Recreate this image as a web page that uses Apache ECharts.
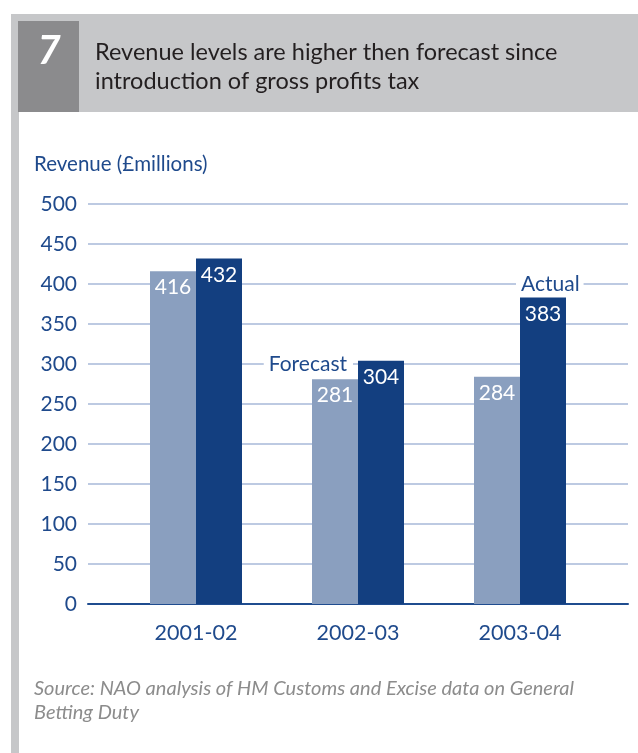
<!DOCTYPE html>
<html>
<head>
<meta charset="utf-8">
<script src="https://cdn.jsdelivr.net/npm/echarts@6/dist/echarts.min.js"></script>
<style>
html,body{margin:0;padding:0;background:#fff;}
#c{width:638px;height:753px;}
</style>
</head>
<body>
<div id="c"></div>
<script>
const categories = ['2001-02', '2002-03', '2003-04'];
const forecast = [416, 281, 284];
const actual = [432, 304, 383];
const yTicks = [0, 50, 100, 150, 200, 250, 300, 350, 400, 450, 500];

const FONT = 'Lato';
const BLUE_TEXT = '#1f4a8c';
const C_FORE = '#8a9fbf';
const C_ACT = '#133f80';
const GRIDC = '#a7b9d8';

const chart = echarts.init(document.getElementById('c'), null, {renderer: 'canvas'});

const option = {
  backgroundColor: '#ffffff',
  animation: false,
  grid: [
    {left: 88, right: 10, top: 204, bottom: 149, containLabel: false},
    {left: 115, right: 37, top: 204, bottom: 149, containLabel: false}
  ],
  xAxis: [
    {gridIndex: 0, type: 'value', min: 0, max: 1,
     axisLine: {show: true, onZero: false, lineStyle: {color: '#1f4c8f', width: 2}},
     axisTick: {show: false}, axisLabel: {show: false}, splitLine: {show: false}},
    {gridIndex: 1, type: 'category', data: categories,
     axisLine: {show: false}, axisTick: {show: false},
     axisLabel: {color: BLUE_TEXT, fontFamily: FONT, fontSize: 21.5, margin: 18}}
  ],
  yAxis: [
    {gridIndex: 0, type: 'value', min: 0, max: 500, interval: 50,
     axisLine: {show: false}, axisTick: {show: false},
     axisLabel: {color: BLUE_TEXT, fontFamily: FONT, fontSize: 21, margin: 11,
       formatter: v => yTicks.includes(v) ? String(v) : ''},
     splitLine: {show: true, lineStyle: {color: GRIDC, width: 1.5}}},
    {gridIndex: 1, type: 'value', min: 0, max: 500, interval: 50, show: false,
     splitLine: {show: false}}
  ],
  series: [
    {name: 'Forecast', type: 'bar', xAxisIndex: 1, yAxisIndex: 1, data: forecast,
     barWidth: 46, barGap: '0%', itemStyle: {color: C_FORE},
     label: {show: true, position: 'insideTop', distance: 6, color: '#fff', fontFamily: FONT, fontSize: 21}},
    {name: 'Actual', type: 'bar', xAxisIndex: 1, yAxisIndex: 1, data: actual,
     barWidth: 46, barGap: '0%', itemStyle: {color: C_ACT},
     label: {show: true, position: 'insideTop', distance: 6, color: '#fff', fontFamily: FONT, fontSize: 21}}
  ],
  graphic: [
    {type: 'rect', shape: {x: 11, y: 14, width: 627, height: 98}, style: {fill: '#c6c7c9'}, z: 1},
    {type: 'rect', shape: {x: 11, y: 112, width: 8, height: 641}, style: {fill: '#c6c7c9'}, z: 1},
    {type: 'rect', shape: {x: 18, y: 21, width: 61, height: 91}, style: {fill: '#8b8b8d'}, z: 2},
    {type: 'text', x: 49, y: 51, z: 3, style: {text: '7', fill: '#fff', font: 'italic bold 40px ' + FONT, align: 'center', verticalAlign: 'middle'}},
    {type: 'text', x: 95, y: 52, z: 3, style: {text: 'Revenue levels are higher then forecast since', fill: '#231f20', font: '23.5px ' + FONT, verticalAlign: 'middle'}},
    {type: 'text', x: 95, y: 81, z: 3, style: {text: 'introduction of gross profits tax', fill: '#231f20', font: '23.5px ' + FONT, verticalAlign: 'middle'}},
    {type: 'text', x: 34, y: 164, z: 3, style: {text: 'Revenue (£millions)', fill: BLUE_TEXT, font: '20.5px ' + FONT, verticalAlign: 'middle'}},
    {type: 'text', x: 34, y: 689, z: 3, style: {text: 'Source: NAO analysis of HM Customs and Excise data on General', fill: '#8c8c8c', font: 'italic 20px ' + FONT, verticalAlign: 'middle'}},
    {type: 'text', x: 34, y: 713, z: 3, style: {text: 'Betting Duty', fill: '#8c8c8c', font: 'italic 20px ' + FONT, verticalAlign: 'middle'}}
  ]
};
chart.setOption(option);

// annotations placed relative to the data scale
const pF = chart.convertToPixel({xAxisIndex: 1, yAxisIndex: 1}, [categories[1], 300]);
const pA = chart.convertToPixel({xAxisIndex: 1, yAxisIndex: 1}, [categories[2], 400]);
chart.setOption({
  graphic: option.graphic.concat([
    {type: 'text', x: pF[0] - 5, y: pF[1], z: 50,
     style: {text: 'Forecast', fill: BLUE_TEXT, font: '21px ' + FONT, align: 'right', verticalAlign: 'middle',
       backgroundColor: '#fff', padding: [0, 6, 0, 5]}},
    {type: 'text', x: pA[0] - 4, y: pA[1], z: 50,
     style: {text: 'Actual', fill: BLUE_TEXT, font: '21px ' + FONT, align: 'left', verticalAlign: 'middle',
       backgroundColor: '#fff', padding: [0, 4, 0, 5]}}
  ])
}, {replaceMerge: ['graphic']});
</script>
</body>
</html>
